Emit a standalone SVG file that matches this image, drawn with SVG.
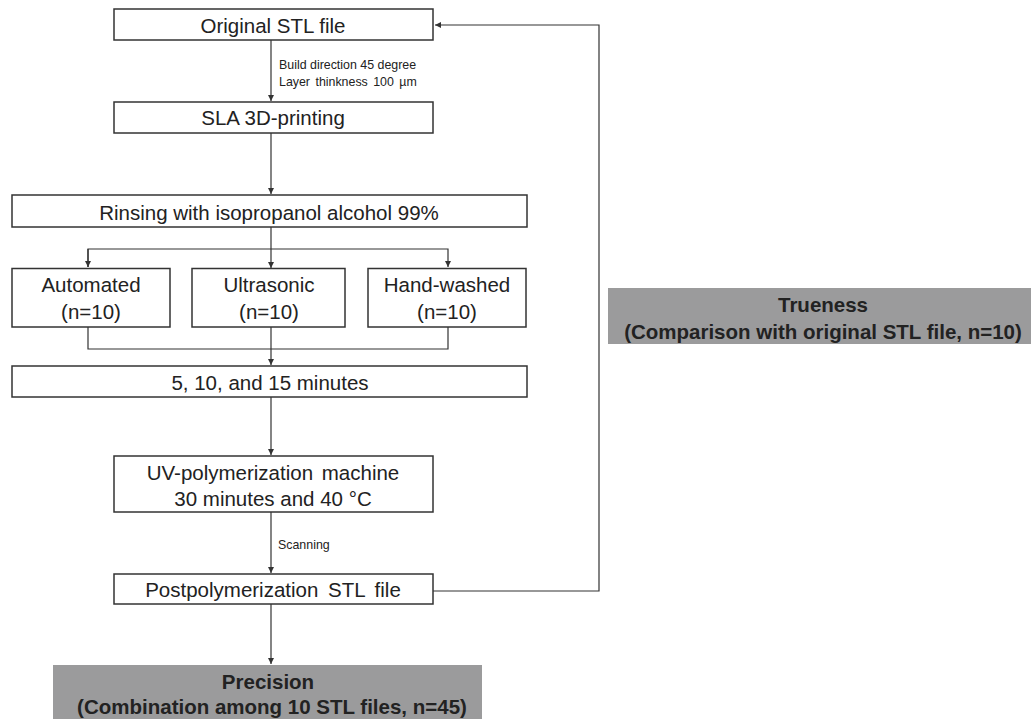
<svg xmlns="http://www.w3.org/2000/svg" width="1031" height="719" viewBox="0 0 1031 719">
<defs>
<marker id="ah" markerWidth="8" markerHeight="8" refX="6" refY="3" orient="auto" markerUnits="userSpaceOnUse">
<path d="M0,0 L6,3 L0,6 Z" fill="#333"/>
</marker>
<style>
.box{fill:#fff;stroke:#333;stroke-width:1.5}
.gbox{fill:#9b9b9c;stroke:none}
.t{font-family:"Liberation Sans",Arial,sans-serif;font-size:20.5px;fill:#222;text-anchor:middle}
.s{font-family:"Liberation Sans",Arial,sans-serif;font-size:12.4px;fill:#222}
.b{font-family:"Liberation Sans",Arial,sans-serif;font-size:20.5px;font-weight:bold;fill:#222;text-anchor:middle}
.c{fill:none;stroke:#333;stroke-width:1.2}
</style>
</defs>
<rect width="1031" height="719" fill="#fff"/>
<g id="connectors">
<line class="c" x1="271" y1="40" x2="271" y2="101" marker-end="url(#ah)"/>
<line class="c" x1="271" y1="133" x2="271" y2="194" marker-end="url(#ah)"/>
<line class="c" x1="271" y1="227" x2="271" y2="268" marker-end="url(#ah)"/>
<polyline class="c" points="88,267 88,249 448,249 448,267" marker-end="url(#ah)"/>
<line class="c" x1="88" y1="249" x2="88" y2="267" marker-end="url(#ah)"/>
<polyline class="c" points="88,327 88,349 448,349 448,327"/>
<line class="c" x1="271" y1="327" x2="271" y2="365" marker-end="url(#ah)"/>
<line class="c" x1="271" y1="397" x2="271" y2="455" marker-end="url(#ah)"/>
<line class="c" x1="271" y1="512" x2="271" y2="573" marker-end="url(#ah)"/>
<line class="c" x1="271" y1="604" x2="271" y2="664" marker-end="url(#ah)"/>
<polyline class="c" points="433,591 599,591 599,25 435,25" marker-end="url(#ah)"/>
<text class="s" x="279" y="69">Build direction 45 degree</text>
<text class="s" x="279" y="86" style="word-spacing:2px">Layer thinkness 100 µm</text>
<text class="s" x="278" y="549">Scanning</text>
</g>
<g id="n-original"><rect class="box" x="114" y="9" width="319" height="31"/><text class="t" x="273" y="33">Original STL file</text></g>
<g id="n-sla"><rect class="box" x="114" y="102" width="319" height="31"/><text class="t" x="273" y="125">SLA 3D-printing</text></g>
<g id="n-rinsing"><rect class="box" x="12" y="195" width="515" height="32"/><text class="t" x="269" y="219.5">Rinsing with isopropanol alcohol 99%</text></g>
<g id="n-automated"><rect class="box" x="12" y="268.5" width="158" height="58.5"/><text class="t" x="91" y="292">Automated</text><text class="t" x="91" y="319">(n=10)</text></g>
<g id="n-ultrasonic"><rect class="box" x="192" y="268.5" width="153" height="58.5"/><text class="t" x="269" y="292">Ultrasonic</text><text class="t" x="269" y="319">(n=10)</text></g>
<g id="n-handwashed"><rect class="box" x="368" y="268.5" width="158" height="58.5"/><text class="t" x="447" y="292">Hand-washed</text><text class="t" x="447" y="319">(n=10)</text></g>
<g id="n-minutes"><rect class="box" x="12" y="366" width="515" height="31"/><text class="t" x="270" y="390">5, 10, and 15 minutes</text></g>
<g id="n-uv"><rect class="box" x="114" y="456" width="319" height="56"/><text class="t" x="273" y="480" style="word-spacing:3px">UV-polymerization machine</text><text class="t" x="273" y="506">30 minutes and 40 °C</text></g>
<g id="n-post"><rect class="box" x="114" y="574" width="319" height="30"/><text class="t" x="273" y="597" style="word-spacing:4px">Postpolymerization STL file</text></g>
<g id="n-trueness"><rect class="gbox" x="608" y="288" width="423" height="56"/><text class="b" x="823" y="312">Trueness</text><text class="b" x="823" y="339">(Comparison with original STL file, n=10)</text></g>
<g id="n-precision"><rect class="gbox" x="53" y="665" width="429" height="54"/><text class="b" x="268" y="689">Precision</text><text class="b" x="272" y="714">(Combination among 10 STL files, n=45)</text></g>
</svg>
